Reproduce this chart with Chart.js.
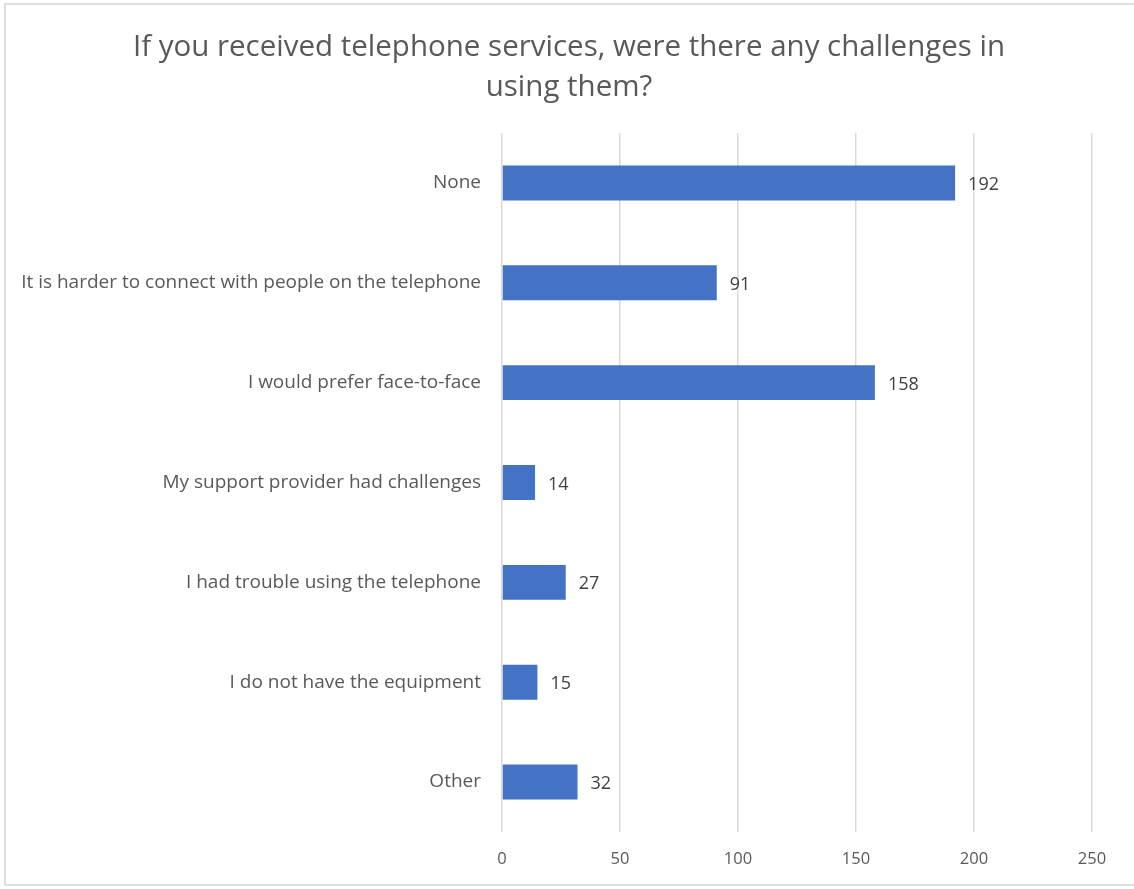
<!DOCTYPE html>
<html>
<head>
<meta charset="utf-8">
<script src="https://cdn.jsdelivr.net/npm/chart.js@4"></script>
<style>
  body { margin: 0; background: #fff; }
  #wrap { position: absolute; left: 4px; top: 3px; width: 1140px; height: 883px; border: 2px solid #dedede; box-sizing: border-box; }
  #chart { position: absolute; left: 0; top: 0; }
  #title { position: absolute; left: 69px; width: 1000px; top: 25px; text-align: center;
           font-family: "Open Sans"; font-size: 29.5px; line-height: 40px; color: #595959; }
</style>
</head>
<body>
<div id="wrap"></div>
<canvas id="chart" width="1134" height="889"></canvas>
<div id="title">If you received telephone services, were there any challenges in<br>using them?</div>
<script>
// Categorias e valores
var labels = [
  "None",
  "It is harder to connect with people on the telephone",
  "I would prefer face-to-face",
  "My support provider had challenges",
  "I had trouble using the telephone",
  "I do not have the equipment",
  "Other"
]
var values = [192, 91, 158, 14, 27, 15, 32]
var xTicks = [0, 50, 100, 150, 200, 250]

var barColor = "#4472C4"
var textColor = "#595959"

// Escreve o valor no fim de cada barra
var valueLabels = {
  id: 'valueLabels',
  afterDatasetsDraw(chart) {
    var ctx = chart.ctx
    var meta = chart.getDatasetMeta(0)
    ctx.save()
    ctx.font = '18px "Open Sans"'
    ctx.fillStyle = "#404040"
    ctx.textBaseline = 'middle'
    ctx.textAlign = 'left'
    meta.data.forEach((bar, i) => {
      ctx.fillText(values[i], bar.x + 13, bar.y + 2)
    })
    ctx.restore()
  }
}

window.onload = function () {
  var el = document.getElementById("chart")
  new Chart(el, {
    type: 'bar',
    data: {
      labels: labels,
      datasets: [{
        data: values,
        backgroundColor: barColor,
        barPercentage: 0.35,
        categoryPercentage: 1
      }]
    },
    options: {
      indexAxis: 'y',
      responsive: false,
      animation: false,
      layout: { padding: { left: 0, right: 42, top: 133, bottom: 0 } },
      plugins: {
        legend: { display: false },
        tooltip: { enabled: false }
      },
      scales: {
        x: {
          min: 0,
          max: 250,
          afterBuildTicks: (scale) => { scale.ticks = xTicks.map(v => ({ value: v })) },
          afterFit: (scale) => { scale.height = 57 },
          grid: { color: "#d9d9d9", lineWidth: 1.5, drawTicks: false },
          border: { display: false },
          ticks: { color: textColor, padding: 17, font: { family: '"Open Sans"', size: 16.5 } }
        },
        y: {
          afterFit: (scale) => { scale.width = 502 },
          grid: { display: false },
          border: { display: false },
          ticks: { color: textColor, padding: 13, font: { family: '"Open Sans"', size: 19 } }
        }
      }
    },
    plugins: [valueLabels]
  })
}
</script>
</body>
</html>
